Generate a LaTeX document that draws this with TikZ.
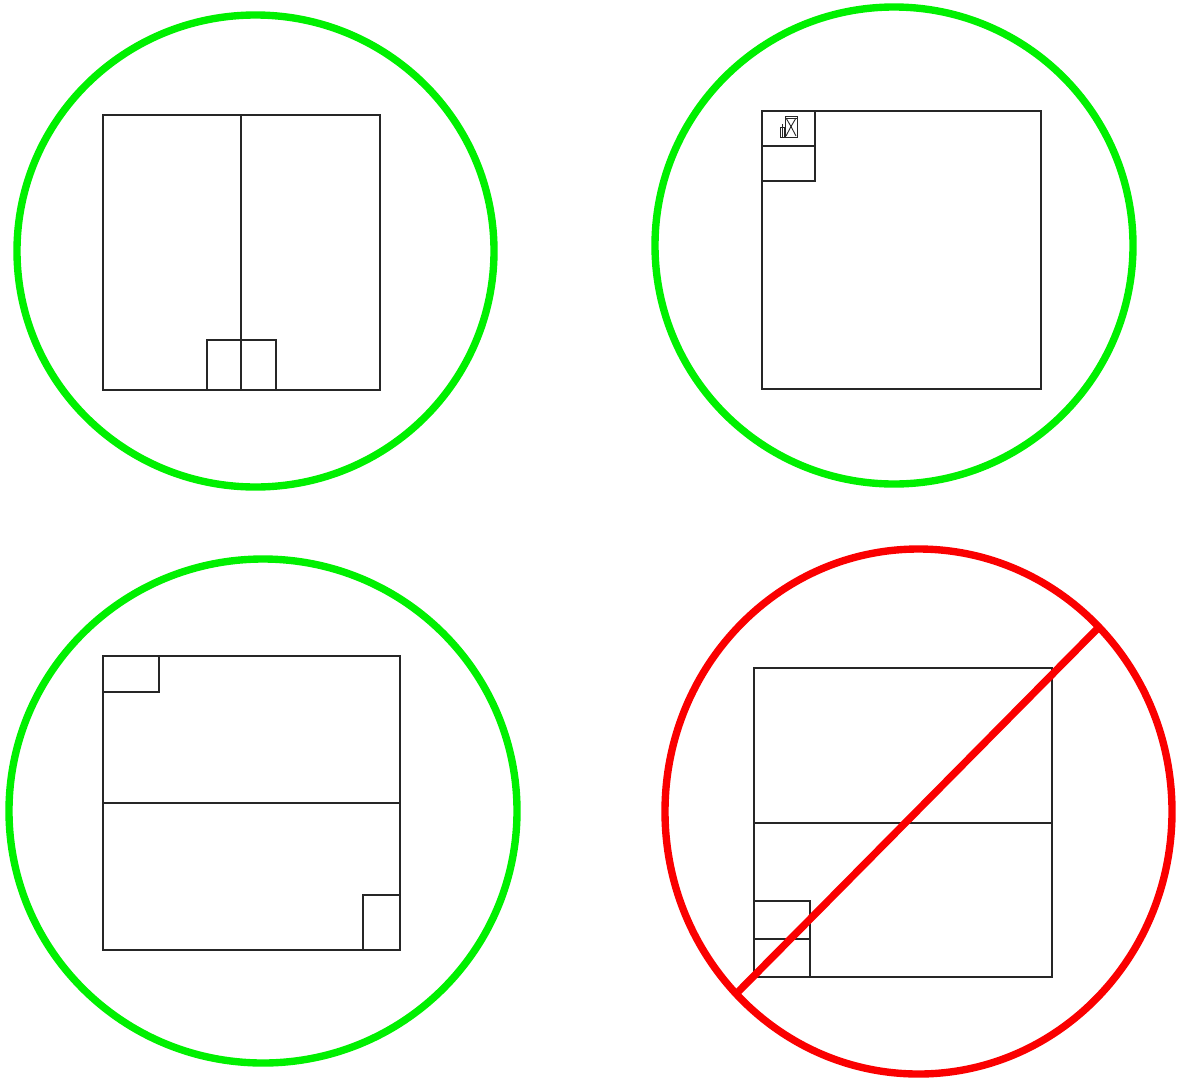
\documentclass[tikz,border=0pt]{standalone}
\usepackage{tikz}
\usetikzlibrary{calc}
\usepackage{xcolor}

\definecolor{okgreen}{RGB}{0,240,0}
\definecolor{nogored}{RGB}{250,0,0}

\tikzset{
  ring/.style={line width=4.2pt},
  plan/.style={draw=black!85, line width=0.6pt},
}

\begin{document}
\begin{tikzpicture}[x=0.02cm, y=-0.02cm]
  \useasboundingbox (0,0) rectangle (1179,1082);

  % top left: split in two, small box at the bottom middle
  \draw[ring, okgreen] (255.5,251) ellipse [x radius=238.5, y radius=236];
  \draw[plan] (103,115) rectangle (380,390);
  \draw[plan] (241,115) -- (241,390);
  \draw[plan] (207,340) rectangle (276,390);

  % top right: small boxes in the corner with an icon
  \draw[ring, okgreen] (894,245.5) ellipse [x radius=239, y radius=238.5];
  \draw[plan] (762,111) rectangle (1041,389);
  \draw[plan] (762,111) rectangle (815,146);
  \draw[plan] (762,146) rectangle (815,181);
  \draw[plan, line width=0.5pt] (785,116) rectangle (797,137);
  \draw[plan, line width=0.5pt] (785,118) -- (797,118);
  \draw[plan, line width=0.5pt] (786,118) -- (791,126.5) -- (786,136);
  \draw[plan, line width=0.5pt] (796,118) -- (791,126.5) -- (796,136);
  \draw[plan, line width=0.5pt] (780,127) rectangle (784,137);
  \draw[plan, line width=0.5pt] (782,124) -- (782,137);

  % bottom left: split across, boxes in opposite corners
  \draw[ring, okgreen] (263,811) ellipse [x radius=254, y radius=252];
  \draw[plan] (103,656) rectangle (400,950);
  \draw[plan] (103,803) -- (400,803);
  \draw[plan] (103,656) rectangle (159,692);
  \draw[plan] (363,895) rectangle (400,950);

  % bottom right: not allowed
  \draw[ring, nogored] (918.5,811.5) ellipse [x radius=253.5, y radius=262.5];
  \draw[plan] (754,668) rectangle (1052,977);
  \draw[plan] (754,823) -- (1052,823);
  \draw[plan] (754,901) rectangle (810,939);
  \draw[plan] (754,939) rectangle (810,977);
  \coordinate (cut-lo) at (737,993);
  \coordinate (cut-hi) at (1099,627);
  \draw[ring, nogored] (cut-lo) -- (cut-hi);
\end{tikzpicture}
\end{document}
